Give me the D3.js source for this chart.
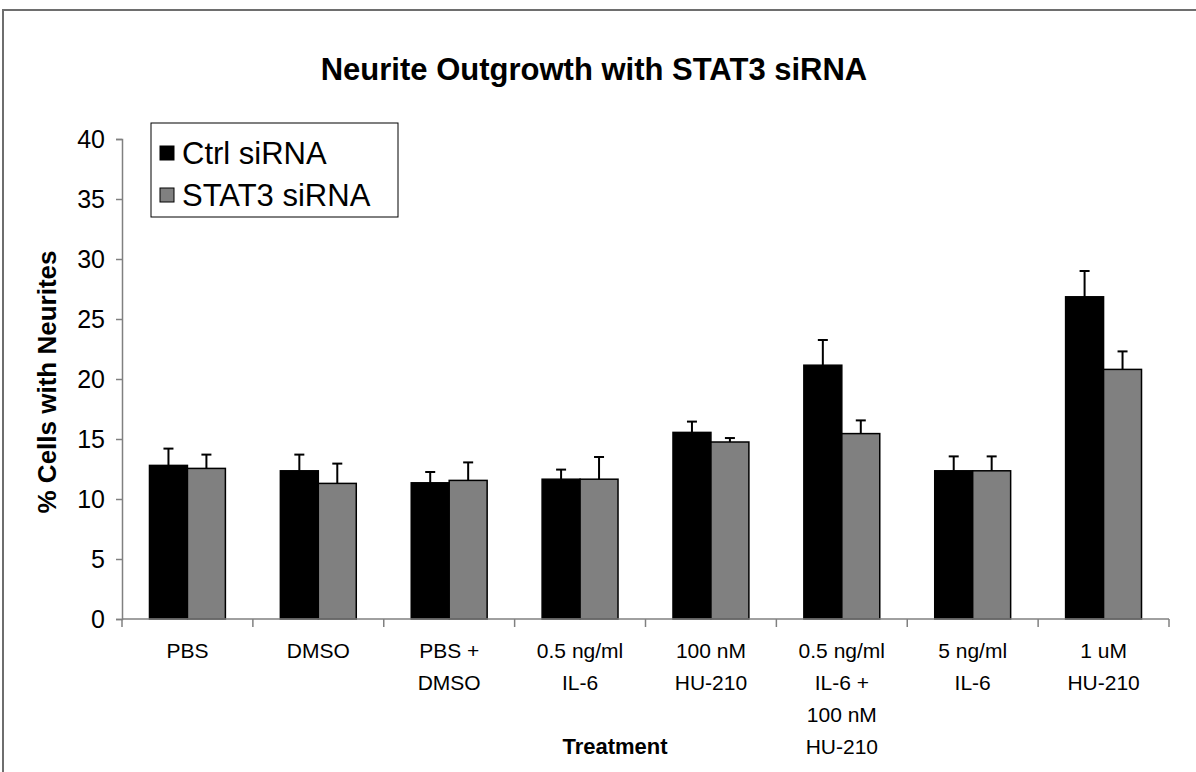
<!DOCTYPE html>
<html><head><meta charset="utf-8">
<script src="https://cdn.jsdelivr.net/npm/d3@7"></script>
<style>body{margin:0;background:#fff}svg{display:block}text{font-family:Arial,"Liberation Sans",sans-serif}</style>
</head><body>
<svg id="c" width="1196" height="772"></svg>
<script>
const categories = [["PBS"],["DMSO"],["PBS +","DMSO"],["0.5 ng/ml","IL-6"],["100 nM","HU-210"],["0.5 ng/ml","IL-6 +","100 nM","HU-210"],["5 ng/ml","IL-6"],["1 uM","HU-210"]];
const seriesNames = ["Ctrl siRNA","STAT3 siRNA"];
const seriesColors = ["#000000","#808080"];
const ctrlValues = [12.8, 12.35, 11.35, 11.65, 15.55, 21.15, 12.35, 26.85];
const ctrlErrors = [1.4, 1.35, 0.9, 0.8, 0.9, 2.1, 1.2, 2.15];
const stat3Values = [12.55, 11.3, 11.55, 11.65, 14.75, 15.45, 12.35, 20.8];
const stat3Errors = [1.15, 1.65, 1.5, 1.85, 0.33, 1.1, 1.2, 1.5];
const yTicks = [0,5,10,15,20,25,30,35,40];

const svg = d3.select("#c");
const L=122, R=1169, B=619, T=139;
const keys = categories.map((c,i)=>i);
const x = d3.scaleBand().domain(keys).range([L,R]).paddingInner(0.42).paddingOuter(0.21);
const xs = d3.scaleBand().domain([0,1]).range([0,x.bandwidth()]);
const y = d3.scaleLinear().domain([0,40]).range([B,T]);

// outer frame
svg.append("path").attr("d",`M3,772V10H1196`).attr("fill","none").attr("stroke","#6e6e6e").attr("stroke-width",2);

// title
svg.append("text").attr("x",594).attr("y",80).attr("text-anchor","middle")
  .attr("font-size",31).attr("font-weight","bold").text("Neurite Outgrowth with STAT3 siRNA");

const series = [
  {vals:ctrlValues, errs:ctrlErrors},
  {vals:stat3Values, errs:stat3Errors}
];
series.forEach((s,si)=>{
  const g = svg.append("g");
  g.selectAll("rect").data(s.vals).join("rect")
    .attr("x",(d,i)=>x(i)+xs(si)).attr("width",xs.bandwidth())
    .attr("y",d=>y(d)).attr("height",d=>y(0)-y(d))
    .attr("fill",seriesColors[si]).attr("stroke","#000").attr("stroke-width",1.5);
  g.selectAll("line.e").data(s.vals).join("line").attr("class","e")
    .attr("x1",(d,i)=>x(i)+xs(si)+xs.bandwidth()/2).attr("x2",(d,i)=>x(i)+xs(si)+xs.bandwidth()/2)
    .attr("y1",d=>y(d)).attr("y2",(d,i)=>y(d+s.errs[i])).attr("stroke","#000").attr("stroke-width",2);
  g.selectAll("line.c").data(s.vals).join("line").attr("class","c")
    .attr("x1",(d,i)=>x(i)+xs(si)+xs.bandwidth()/2-5).attr("x2",(d,i)=>x(i)+xs(si)+xs.bandwidth()/2+5)
    .attr("y1",(d,i)=>y(d+s.errs[i])).attr("y2",(d,i)=>y(d+s.errs[i])).attr("stroke","#000").attr("stroke-width",2);
});

// y axis
const ya = svg.append("g").attr("transform",`translate(${L},0)`)
  .call(d3.axisLeft(y).tickValues(yTicks).tickSize(6).tickPadding(11));
ya.select(".domain").attr("stroke","#808080").attr("stroke-width",1.5);
ya.selectAll(".tick line").attr("stroke","#808080").attr("stroke-width",1.5);
ya.selectAll(".tick text").attr("font-size",25).attr("fill","#000").attr("font-family","Arial, 'Liberation Sans', sans-serif");

// x axis
const xa = svg.append("g").attr("transform",`translate(0,${B})`);
xa.append("line").attr("x1",L).attr("x2",R).attr("stroke","#808080").attr("stroke-width",1.5);
const bounds = keys.map(i=>x(i)-x.step()*x.paddingInner()/2).concat([R]);
xa.selectAll("line.t").data(bounds).join("line").attr("class","t")
  .attr("x1",d=>d).attr("x2",d=>d).attr("y1",0).attr("y2",8).attr("stroke","#808080").attr("stroke-width",1.5);
const lbl = xa.selectAll("text.l").data(categories).join("text").attr("class","l")
  .attr("text-anchor","middle").attr("font-size",21).attr("y",39);
lbl.each(function(lines,i){
  const t=d3.select(this);
  lines.forEach((ln,k)=>t.append("tspan").attr("x",x(i)+x.bandwidth()/2).attr("dy",k===0?0:32).text(ln));
});

// axis titles
svg.append("text").attr("x",615).attr("y",754).attr("text-anchor","middle")
  .attr("font-size",22).attr("font-weight","bold").text("Treatment");
svg.append("text").attr("transform",`translate(56,${(T+B)/2+3}) rotate(-90)`).attr("text-anchor","middle")
  .attr("font-size",26).attr("font-weight","bold").text("% Cells with Neurites");

// legend
const lg = svg.append("g");
lg.append("rect").attr("x",151).attr("y",123).attr("width",247).attr("height",94)
  .attr("fill","#fff").attr("stroke","#000").attr("stroke-width",1);
seriesNames.forEach((n,i)=>{
  lg.append("rect").attr("x",160).attr("y",146+i*42).attr("width",14).attr("height",14)
    .attr("fill",seriesColors[i]).attr("stroke","#000").attr("stroke-width",1);
  lg.append("text").attr("x",182).attr("y",164+i*42).attr("font-size",31).text(n);
});
</script>
</body></html>
